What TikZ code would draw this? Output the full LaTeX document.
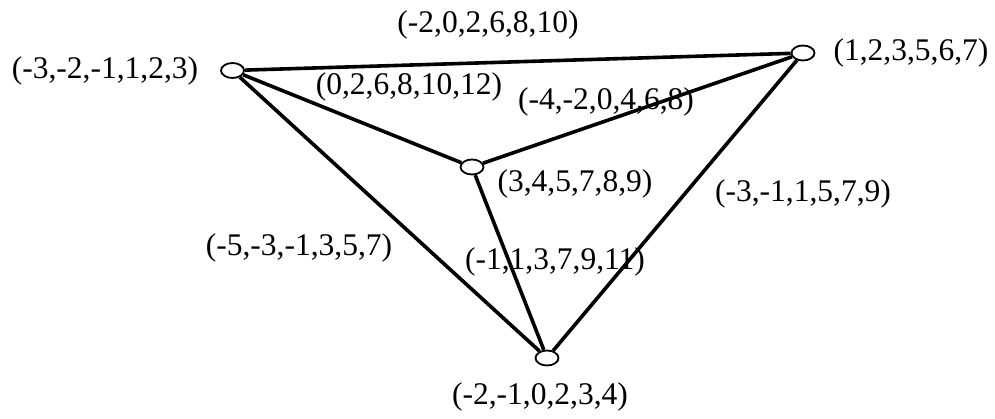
\documentclass[tikz,border=0pt]{standalone}
\usepackage{fontspec}
\setmainfont{Liberation Serif}
\usetikzlibrary{shapes.geometric}
\begin{document}
\begin{tikzpicture}[x=1pt,y=-1pt,
  vert/.style={draw,ellipse,line width=1.8pt,minimum width=23pt,minimum height=15pt,inner sep=0pt,fill=white},
  edge/.style={line width=3.6pt},
  lbl/.style={inner sep=0pt,font=\fontsize{31.5}{36}\selectfont}]
\useasboundingbox (0,0) rectangle (995,419);
\node[vert] (A) at (232.5,70.5) {};
\node[vert] (B) at (803,53) {};
\node[vert] (C) at (472,167) {};
\node[vert] (D) at (547,358) {};
\draw[edge] (A) -- (B);
\draw[edge] (A) -- (C);
\draw[edge] (A) -- (D);
\draw[edge] (B) -- (C);
\draw[edge] (B) -- (D);
\draw[edge] (C) -- (D);
\node[lbl] (lA) at (105,71) {(-3,-2,-1,1,2,3)};
\node[lbl] (lB) at (911,53) {(1,2,3,5,6,7)};
\node[lbl] (lC) at (575,184) {(3,4,5,7,8,9)};
\node[lbl] (lD) at (540,397) {(-2,-1,0,2,3,4)};
\node[lbl] (lAB) at (488,25) {(-2,0,2,6,8,10)};
\node[lbl] (lAC) at (409,86.5) {(0,2,6,8,10,12)};
\node[lbl] (lBC) at (606,102) {(-4,-2,0,4,6,8)};
\node[lbl] (lBD) at (803,194) {(-3,-1,1,5,7,9)};
\node[lbl] (lAD) at (299,248) {(-5,-3,-1,3,5,7)};
\node[lbl] (lCD) at (555,262) {(-1,1,3,7,9,11)};
\end{tikzpicture}
\end{document}
